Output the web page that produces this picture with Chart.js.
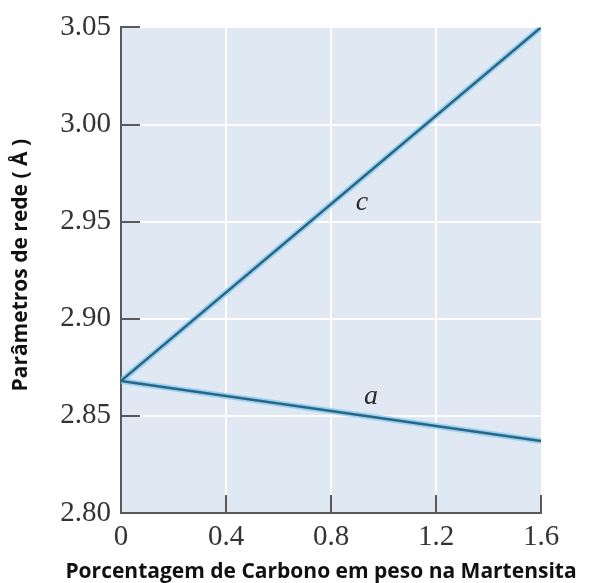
<!DOCTYPE html>
<html>
<head>
<meta charset="utf-8">
<script src="https://cdn.jsdelivr.net/npm/chart.js@4/dist/chart.umd.min.js"></script>
<style>
  html, body { margin: 0; padding: 0; background: #fff; }
  #wrap { width: 592px; height: 583px; }
</style>
</head>
<body>
<div id="wrap"><canvas id="chart" width="592" height="583"></canvas></div>
<script>
// Lattice parameters of martensite vs carbon content (wt%)
const carbon = [0, 1.6];
const paramC = [2.868, 3.05];
const paramA = [2.868, 2.837];
const xTicks = [0, 0.4, 0.8, 1.2, 1.6];
const yTicks = [2.80, 2.85, 2.90, 2.95, 3.00, 3.05];
const curveLabels = [
    { text: 'c', x: 0.918, y: 2.960 },
    { text: 'a', x: 0.952, y: 2.860 }
];
const xTitle = 'Porcentagem de Carbono em peso na Martensita';
const yTitle = 'Parâmetros de rede ( Å )';

const lineDark = '#2b6583';
const lineGlow = 'rgba(140, 205, 240, 0.85)';
const axisColor = '#5a5a5a';
const serif = '"Liberation Serif", "DejaVu Serif", serif';
const sans = '"Open Sans", "Noto Sans", sans-serif';

function pts(ys) {
    return carbon.map((x, i) => ({ x: x, y: ys[i] }));
}

// Shaded plot area, inner tick marks, axis titles and the curve letters
// (titles drawn here so Chart.js doesn't squeeze them to the axis width)
const plotDecor = {
    id: 'plotDecor',
    beforeDraw(chart) {
        const { ctx, chartArea: a } = chart;
        ctx.save();
        ctx.fillStyle = '#dfe8f3';
        ctx.fillRect(a.left, a.top, a.right - a.left, a.bottom - a.top);
        ctx.restore();
    },
    afterDraw(chart) {
        const { ctx, chartArea: a, scales } = chart;
        ctx.save();
        ctx.strokeStyle = axisColor;
        ctx.lineWidth = 2;
        ctx.beginPath();
        for (const v of yTicks) {
            const y = Math.round(scales.y.getPixelForValue(v));
            ctx.moveTo(a.left, y);
            ctx.lineTo(a.left + 19, y);
        }
        for (const v of xTicks) {
            const x = Math.round(scales.x.getPixelForValue(v));
            ctx.moveTo(x, a.bottom);
            ctx.lineTo(x, a.bottom - 18);
        }
        ctx.stroke();

        ctx.fillStyle = '#2a2a2a';
        ctx.font = 'italic 28px ' + serif;
        ctx.textAlign = 'center';
        ctx.textBaseline = 'middle';
        for (const l of curveLabels) {
            ctx.fillText(l.text, scales.x.getPixelForValue(l.x), scales.y.getPixelForValue(l.y));
        }

        ctx.fillStyle = '#111';
        ctx.font = 'bold 21px ' + sans;
        ctx.fillText(xTitle, 321, 572);
        ctx.translate(21, (a.top + a.bottom) / 2 - 5);
        ctx.rotate(-Math.PI / 2);
        ctx.fillText(yTitle, 0, 0);
        ctx.restore();
    }
};

new Chart(document.getElementById('chart'), {
    type: 'line',
    data: {
        datasets: [
            { data: pts(paramC), borderColor: lineGlow, borderWidth: 6, pointRadius: 0, order: 2 },
            { data: pts(paramA), borderColor: lineGlow, borderWidth: 6, pointRadius: 0, order: 2 },
            { data: pts(paramC), borderColor: lineDark, borderWidth: 2.5, pointRadius: 0, order: 1 },
            { data: pts(paramA), borderColor: lineDark, borderWidth: 2.5, pointRadius: 0, order: 1 }
        ]
    },
    options: {
        responsive: false,
        animation: false,
        layout: { padding: { top: 25, right: 51, left: 0, bottom: 0 } },
        plugins: { legend: { display: false }, tooltip: { enabled: false } },
        scales: {
            x: {
                type: 'linear',
                min: 0,
                max: 1.6,
                afterBuildTicks: (s) => { s.ticks = xTicks.map(v => ({ value: v })); },
                afterFit: (s) => { s.height = 70; },
                grid: {
                    color: (c) => (c.tick && (c.tick.value === 0 || c.tick.value === 1.6)) ? 'rgba(0,0,0,0)' : '#ffffff',
                    lineWidth: 2,
                    drawTicks: false
                },
                border: { color: axisColor, width: 2 },
                ticks: {
                    padding: 7,
                    color: '#333',
                    font: { family: serif, size: 29 },
                    callback: (v) => v === 0 ? '0' : Number(v).toFixed(1)
                }
            },
            y: {
                type: 'linear',
                min: 2.80,
                max: 3.05,
                afterBuildTicks: (s) => { s.ticks = yTicks.map(v => ({ value: v })); },
                afterFit: (s) => { s.width = 121; },
                grid: {
                    color: (c) => (c.tick && c.tick.value === 2.80) ? 'rgba(0,0,0,0)' : '#ffffff',
                    lineWidth: 2,
                    drawTicks: false
                },
                border: { color: axisColor, width: 2 },
                ticks: {
                    padding: 10,
                    color: '#333',
                    font: { family: serif, size: 29 },
                    callback: (v) => Number(v).toFixed(2)
                }
            }
        }
    },
    plugins: [plotDecor]
});
</script>
</body>
</html>
